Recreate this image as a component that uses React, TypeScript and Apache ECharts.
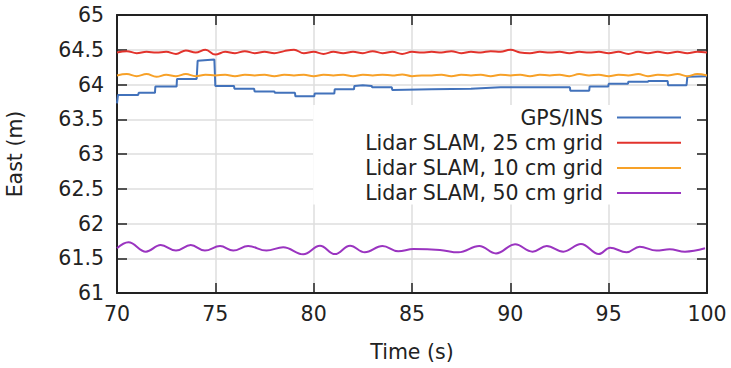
import React, { useEffect, useRef } from "react";
import * as echarts from "echarts";

const xTicks = [70, 75, 80, 85, 90, 95, 100];
const yTicks = [61, 61.5, 62, 62.5, 63, 63.5, 64, 64.5, 65];

const seriesNames = [
  "GPS/INS",
  "Lidar SLAM, 25 cm grid",
  "Lidar SLAM, 10 cm grid",
  "Lidar SLAM, 50 cm grid",
];
const seriesColors = ["#4272bb", "#e2332c", "#f7a128", "#9a34c0"];

// GPS/INS (stepped)
const gpsTime = [
  70, 70.05, 71.08, 71.1, 71.93, 71.95, 73.03, 73.05, 74.05, 74.1, 74.95, 75.0,
  75.95, 75.97, 76.97, 77.0, 78.0, 78.03, 79.05, 79.07, 80.03, 80.05, 81.05,
  81.07, 82.05, 82.07, 82.5, 82.95, 82.97, 83.97, 84.0, 86, 88, 89.5, 91, 93.03,
  93.05, 94.01, 94.03, 94.98, 95.0, 95.98, 96.0, 97.0, 97.02, 98.0, 98.02,
  98.96, 99.0, 100,
];
const gpsEast = [
  63.73, 63.85, 63.85, 63.88, 63.88, 63.97, 63.97, 64.08, 64.08, 64.34, 64.36,
  63.98, 63.98, 63.94, 63.94, 63.9, 63.9, 63.88, 63.88, 63.83, 63.83, 63.87,
  63.87, 63.93, 63.93, 63.98, 63.99, 63.98, 63.96, 63.96, 63.92, 63.93, 63.94,
  63.96, 63.96, 63.96, 63.91, 63.91, 63.97, 63.97, 64.01, 64.01, 64.04, 64.04,
  64.05, 64.05, 63.99, 63.99, 64.11, 64.12,
];

// Lidar SLAM 25 cm and 10 cm, sampled every 0.5 s
const slamTime = [
  70, 70.5, 71, 71.5, 72, 72.5, 73, 73.5, 74, 74.5, 75, 75.5, 76, 76.5, 77,
  77.5, 78, 78.5, 79, 79.5, 80, 80.5, 81, 81.5, 82, 82.5, 83, 83.5, 84, 84.5,
  85, 85.5, 86, 86.5, 87, 87.5, 88, 88.5, 89, 89.5, 90, 90.5, 91, 91.5, 92,
  92.5, 93, 93.5, 94, 94.5, 95, 95.5, 96, 96.5, 97, 97.5, 98, 98.5, 99, 99.5,
  100,
];
const slam25East = [
  64.46, 64.48, 64.45, 64.47, 64.46, 64.47, 64.44, 64.49, 64.46, 64.5, 64.43,
  64.47, 64.45, 64.48, 64.45, 64.47, 64.45, 64.48, 64.5, 64.45, 64.47, 64.44,
  64.47, 64.45, 64.47, 64.45, 64.48, 64.45, 64.47, 64.44, 64.47, 64.46, 64.47,
  64.46, 64.48, 64.45, 64.47, 64.46, 64.48, 64.47, 64.5, 64.46, 64.45, 64.47,
  64.46, 64.47, 64.45, 64.47, 64.46, 64.47, 64.45, 64.47, 64.44, 64.47, 64.45,
  64.47, 64.45, 64.47, 64.45, 64.47, 64.46,
];
const slam10East = [
  64.13, 64.15, 64.12, 64.15, 64.11, 64.14, 64.12, 64.15, 64.12, 64.14, 64.13,
  64.14, 64.12, 64.14, 64.13, 64.14, 64.12, 64.14, 64.13, 64.14, 64.12, 64.14,
  64.13, 64.14, 64.12, 64.14, 64.13, 64.14, 64.13, 64.145, 64.12, 64.13, 64.13,
  64.14, 64.12, 64.14, 64.13, 64.14, 64.12, 64.14, 64.13, 64.14, 64.12, 64.14,
  64.13, 64.14, 64.12, 64.15, 64.13, 64.14, 64.12, 64.14, 64.13, 64.15, 64.12,
  64.14, 64.13, 64.15, 64.12, 64.15, 64.13,
];

// Lidar SLAM 50 cm (peaks and troughs)
const slam50Time = [
  70.0, 70.58, 71.47, 72.22, 73.0, 73.75, 74.47, 75.24, 75.91, 76.67, 77.6,
  78.45, 79.47, 80.32, 81.08, 81.85, 82.6, 83.5, 84.3, 85.07, 86.42, 87.36,
  88.42, 89.27, 90.24, 91.13, 91.85, 92.69, 93.59, 94.5, 95.07, 95.91, 96.58,
  97.43, 98.1, 98.88, 99.9,
];
const slam50East = [
  61.645, 61.73, 61.595, 61.69, 61.61, 61.69, 61.61, 61.676, 61.61, 61.676,
  61.61, 61.66, 61.557, 61.68, 61.56, 61.68, 61.585, 61.676, 61.6, 61.633,
  61.62, 61.585, 61.676, 61.57, 61.7, 61.595, 61.676, 61.595, 61.705, 61.56,
  61.652, 61.585, 61.667, 61.61, 61.63, 61.595, 61.643,
];

const zip = (t: number[], v: number[]) => t.map((x, i) => [x, v[i]]);

const FONT = "DejaVu Sans";
const FS = 20.5;

export default function App() {
  const ref = useRef<HTMLDivElement>(null);
  useEffect(() => {
    if (!ref.current) return;
    const chart = echarts.init(ref.current, undefined, { renderer: "svg" });
    const tickStyle = { show: true, inside: true, length: 10, lineStyle: { color: "#222", width: 1.5 } };
    const axisLineStyle = { show: true, onZero: false, lineStyle: { color: "#222", width: 2 } };
    const splitLine = { show: true, lineStyle: { color: "#dedede", width: 1.5 } };
    const mk = (i: number, data: number[][], smooth: number | boolean) => ({
      name: seriesNames[i],
      type: "line",
      data,
      smooth,
      symbol: "none",
      showSymbol: false,
      color: seriesColors[i],
      itemStyle: { color: seriesColors[i] },
      lineStyle: { color: seriesColors[i], width: 2 },
      xAxisIndex: 0,
      yAxisIndex: 0,
      z: 2,
    });
    chart.setOption({
      animation: false,
      textStyle: { fontFamily: FONT },
      grid: {
        left: 117,
        right: 24,
        top: 15,
        bottom: 75,
        containLabel: false,
        outerBoundsMode: "none",
      },
      xAxis: [
        {
          type: "value",
          min: xTicks[0],
          max: xTicks[xTicks.length - 1],
          interval: 5,
          name: "Time (s)",
          nameLocation: "middle",
          nameGap: 48,
          nameTextStyle: { fontFamily: FONT, fontSize: FS, color: "#222" },
          axisLine: axisLineStyle,
          axisTick: tickStyle,
          axisLabel: { fontFamily: FONT, fontSize: FS, color: "#222", margin: 10 },
          splitLine,
        },
        {
          type: "value",
          position: "top",
          min: xTicks[0],
          max: xTicks[xTicks.length - 1],
          interval: 5,
          axisLine: axisLineStyle,
          axisTick: tickStyle,
          axisLabel: { show: false },
          splitLine: { show: false },
        },
      ],
      yAxis: [
        {
          type: "value",
          min: yTicks[0],
          max: yTicks[yTicks.length - 1],
          interval: 0.5,
          name: "East (m)",
          nameLocation: "middle",
          nameGap: 92,
          nameTextStyle: { fontFamily: FONT, fontSize: FS, color: "#222" },
          axisLine: axisLineStyle,
          axisTick: tickStyle,
          axisLabel: { fontFamily: FONT, fontSize: FS, color: "#222", margin: 13 },
          splitLine,
        },
        {
          type: "value",
          position: "right",
          min: yTicks[0],
          max: yTicks[yTicks.length - 1],
          interval: 0.5,
          axisLine: axisLineStyle,
          axisTick: tickStyle,
          axisLabel: { show: false },
          splitLine: { show: false },
        },
      ],
      legend: {
        orient: "vertical",
        align: "right",
        right: 34,
        top: 105,
        padding: [2, 16, 1, 52],
        itemWidth: 64,
        itemHeight: 2,
        itemGap: 4.2,
        icon: "rect",
        backgroundColor: "#fff",
        textStyle: { fontFamily: FONT, fontSize: FS, color: "#222", lineHeight: 20, padding: [0, 9, 0, 0] },
        data: seriesNames,
      },
      series: [
        mk(0, zip(gpsTime, gpsEast), false),
        mk(1, zip(slamTime, slam25East), 0.4),
        mk(2, zip(slamTime, slam10East), 0.4),
        mk(3, zip(slam50Time, slam50East), 0.4),
      ],
    });
    return () => chart.dispose();
  }, []);
  return (
    <div
      ref={ref}
      style={{ position: "absolute", left: 0, top: 0, width: 731, height: 368, background: "#fff" }}
    />
  );
}
